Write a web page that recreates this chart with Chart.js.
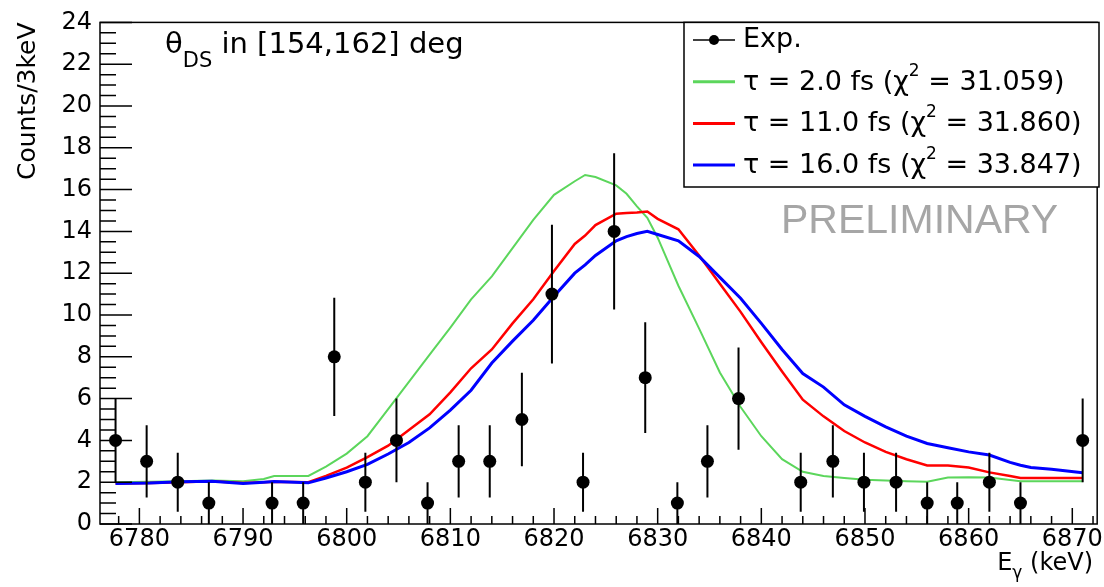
<!DOCTYPE html>
<html lang="en">
<head>
<meta charset="UTF-8">
<title>Spectrum fit</title>
<script src="https://cdn.jsdelivr.net/npm/chart.js"></script>
<style>
  html, body { margin: 0; padding: 0; background: #fff; }
  #wrap { width: 1104px; height: 587px; position: relative; }
</style>
</head>
<body>
<div id="wrap"><canvas id="spec"></canvas></div>
<script>
// measured spectrum, 3 keV bins (empty bins are not drawn)
const expEnergy = [6777.7, 6780.7, 6783.7, 6786.7, 6792.8, 6795.8, 6798.8, 6801.8, 6804.8, 6807.8,
                   6810.8, 6813.8, 6816.9, 6819.8, 6822.8, 6825.8, 6828.8, 6831.9, 6834.8, 6837.8,
                   6843.8, 6846.9, 6849.9, 6853.0, 6856.0, 6858.9, 6862.0, 6865.0, 6871.0];
const expCounts = [4, 3, 2, 1, 1, 1, 8, 2, 4, 1,
                   3, 3, 5, 11, 2, 14, 7, 1, 3, 6,
                   2, 3, 2, 2, 1, 1, 2, 1, 4];
const expErr = [2, 1.73, 1.41, 1, 1, 1, 2.83, 1.41, 2, 1,
                1.73, 1.73, 2.24, 3.32, 1.41, 3.74, 2.65, 1, 1.73, 2.45,
                1.41, 1.73, 1.41, 1.41, 1, 1, 1.41, 1, 2];

// simulated line shapes
const simEnergy = [6777.7, 6781, 6784, 6787, 6790, 6792, 6793, 6796.3, 6798, 6800,
                   6802, 6804, 6806, 6808, 6810, 6812, 6814, 6816, 6818, 6820,
                   6822, 6823, 6824, 6826, 6827, 6828, 6829, 6830, 6832, 6834,
                   6836, 6838, 6840, 6842, 6844, 6846, 6848, 6850, 6852, 6854,
                   6856, 6858, 6860, 6862, 6864, 6865, 6866, 6868, 6871];
const simTau2 = [2.0, 2.02, 2.05, 2.08, 2.05, 2.15, 2.3, 2.3, 2.75, 3.37,
                 4.2, 5.5, 6.8, 8.1, 9.4, 10.75, 11.85, 13.2, 14.55, 15.75,
                 16.4, 16.7, 16.6, 16.2, 15.8, 15.2, 14.65, 13.7, 11.4, 9.35,
                 7.25, 5.6, 4.2, 3.1, 2.5, 2.3, 2.2, 2.12, 2.08, 2.05,
                 2.02, 2.22, 2.24, 2.22, 2.1, 2.05, 2.05, 2.05, 2.05];
const simTau11 = [1.94, 1.96, 2.0, 2.04, 1.96, 2.0, 2.02, 2.0, 2.3, 2.7,
                  3.2, 3.75, 4.5, 5.25, 6.3, 7.45, 8.35, 9.6, 10.75, 12.1,
                  13.4, 13.8, 14.3, 14.85, 14.88, 14.9, 14.95, 14.6, 14.1, 12.85,
                  11.5, 10.15, 8.7, 7.3, 5.95, 5.15, 4.45, 3.9, 3.45, 3.1,
                  2.8, 2.8, 2.7, 2.47, 2.3, 2.2, 2.2, 2.2, 2.2];
const simTau16 = [1.94, 1.96, 2.02, 2.05, 1.94, 2.0, 2.03, 1.97, 2.2, 2.5,
                  2.85, 3.35, 3.9, 4.6, 5.45, 6.4, 7.7, 8.75, 9.75, 10.9,
                  12.0, 12.4, 12.85, 13.55, 13.75, 13.9, 14.0, 13.85, 13.55, 12.8,
                  11.8, 10.8, 9.6, 8.35, 7.2, 6.55, 5.7, 5.15, 4.65, 4.2,
                  3.85, 3.65, 3.45, 3.3, 2.95, 2.81, 2.7, 2.62, 2.45];

const simLabels = ['τ = 2.0 fs', 'τ = 11.0 fs', 'τ = 16.0 fs'];
const simChi2 = ['31.059', '31.860', '33.847'];
const simColors = ['#5cd65c', '#ff0000', '#0000ff'];

const xTicks = [6780, 6790, 6800, 6810, 6820, 6830, 6840, 6850, 6860, 6870];
const yTicks = [0, 2, 4, 6, 8, 10, 12, 14, 16, 18, 20, 22, 24];

const FONT = "'DejaVu Sans', sans-serif";

function pts(xs, ys) {
    return xs.map((x, i) => ({ x: x, y: ys[i] }));
}

// draws a run of text pieces: [text, size, dy]
function drawRun(ctx, x, y, parts) {
    parts.forEach(p => {
        ctx.font = p[1] + 'px ' + FONT;
        ctx.fillText(p[0], x, y + (p[2] || 0));
        x += ctx.measureText(p[0]).width;
    });
    return x;
}
function runWidth(ctx, parts) {
    let w = 0;
    parts.forEach(p => {
        ctx.font = p[1] + 'px ' + FONT;
        w += ctx.measureText(p[0]).width;
    });
    return w;
}

const rootStyle = {
    id: 'rootStyle',
    beforeDatasetDraw(chart, args) {
        if (args.index !== 0) return;
        const { ctx, scales: { x, y } } = chart;
        ctx.save();
        ctx.strokeStyle = '#000';
        ctx.lineWidth = 2;
        ctx.beginPath();
        expEnergy.forEach((e, i) => {
            const px = x.getPixelForValue(e);
            ctx.moveTo(px, y.getPixelForValue(Math.max(0, expCounts[i] - expErr[i])));
            ctx.lineTo(px, y.getPixelForValue(expCounts[i] + expErr[i]));
        });
        ctx.stroke();
        ctx.restore();
    },
    afterDraw(chart) {
        const { ctx, chartArea: a, scales: { x, y } } = chart;
        ctx.save();

        // frame + inward ticks
        ctx.strokeStyle = '#000';
        ctx.lineWidth = 1.5;
        ctx.strokeRect(a.left, a.top, a.right - a.left, a.bottom - a.top);
        ctx.beginPath();
        for (let v = 0; v <= 24; v += 0.5) {
            const py = y.getPixelForValue(v);
            const len = v % 2 === 0 ? 32 : 16;
            ctx.moveTo(a.left, py);
            ctx.lineTo(a.left + len, py);
        }
        for (let v = 6778; v <= 6872; v += 2) {
            const px = x.getPixelForValue(v);
            const len = v % 10 === 0 ? 16 : 8;
            ctx.moveTo(px, a.bottom);
            ctx.lineTo(px, a.bottom - len);
        }
        ctx.stroke();

        ctx.fillStyle = '#000';
        ctx.textBaseline = 'alphabetic';
        ctx.textAlign = 'left';

        // angle label
        let cx = drawRun(ctx, 165, 53, [['θ', 29], ['DS', 21, 14]]);
        drawRun(ctx, cx, 53, [[' in [154,162] deg', 29]]);

        // x axis title E_gamma (keV)
        const xt = [['E', 24], ['γ', 17, 8], [' (keV)', 24]];
        drawRun(ctx, 1093 - runWidth(ctx, xt), 570, xt);

        // legend
        const lx0 = 684, ly0 = a.top, lx1 = 1099, ly1 = 187;
        ctx.fillStyle = '#fff';
        ctx.fillRect(lx0, ly0, lx1 - lx0, ly1 - ly0);
        ctx.strokeStyle = '#000';
        ctx.lineWidth = 1.5;
        ctx.strokeRect(lx0, ly0, lx1 - lx0, ly1 - ly0);

        const rows = [40, 81.7, 123.4, 165.1];
        ctx.fillStyle = '#000';
        ctx.beginPath();
        ctx.moveTo(693, rows[0]);
        ctx.lineTo(735, rows[0]);
        ctx.stroke();
        ctx.beginPath();
        ctx.arc(714, rows[0], 5, 0, Math.PI * 2);
        ctx.fill();
        drawRun(ctx, 743, rows[0] + 7, [['Exp.', 27]]);

        simLabels.forEach((lab, i) => {
            const ry = rows[i + 1];
            ctx.strokeStyle = simColors[i];
            ctx.lineWidth = 3;
            ctx.beginPath();
            ctx.moveTo(693, ry);
            ctx.lineTo(735, ry);
            ctx.stroke();
            ctx.fillStyle = '#000';
            drawRun(ctx, 743, ry + 8, [[lab + ' (χ', 27], ['2', 17, -14], [' = ' + simChi2[i] + ')', 27]]);
        });

        // watermark
        ctx.fillStyle = '#a6a6a6';
        ctx.font = "41px 'Liberation Sans', Arial, sans-serif";
        ctx.fillText('PRELIMINARY', 781, 233);

        ctx.restore();
    }
};

new Chart(document.getElementById('spec'), {
    type: 'line',
    data: {
        datasets: [
            {
                label: 'Exp.',
                data: pts(expEnergy, expCounts),
                showLine: false,
                pointRadius: 6.5,
                pointBackgroundColor: '#000',
                pointBorderWidth: 0,
                order: 0
            },
            {
                label: simLabels[2],
                data: pts(simEnergy, simTau16),
                borderColor: simColors[2],
                borderWidth: 3,
                pointRadius: 0,
                order: 1
            },
            {
                label: simLabels[1],
                data: pts(simEnergy, simTau11),
                borderColor: simColors[1],
                borderWidth: 2.5,
                pointRadius: 0,
                order: 2
            },
            {
                label: simLabels[0],
                data: pts(simEnergy, simTau2),
                borderColor: simColors[0],
                borderWidth: 2,
                pointRadius: 0,
                order: 3
            }
        ]
    },
    options: {
        responsive: true,
        maintainAspectRatio: false,
        animation: false,
        layout: { padding: { top: 20, right: 6, left: 0, bottom: 0 } },
        plugins: {
            legend: { display: false },
            tooltip: { enabled: false }
        },
        scales: {
            x: {
                type: 'linear',
                min: 6776.2,
                max: 6872.4,
                afterBuildTicks: s => { s.ticks = xTicks.map(v => ({ value: v })); },
                afterFit: s => { s.height = 63; },
                grid: { display: false, drawTicks: false },
                border: { display: false },
                ticks: {
                    color: '#000',
                    font: { family: FONT, size: 24 },
                    padding: 1,
                    maxRotation: 0,
                    autoSkip: false,
                    callback: v => String(v)
                }
            },
            y: {
                min: 0,
                max: 24,
                afterBuildTicks: s => { s.ticks = yTicks.map(v => ({ value: v })); },
                afterFit: s => { s.width = 100; },
                grid: { display: false, drawTicks: false },
                border: { display: false },
                ticks: {
                    color: '#000',
                    font: { family: FONT, size: 24 },
                    padding: 8,
                    autoSkip: false
                },
                title: {
                    display: true,
                    text: 'Counts/3keV',
                    align: 'end',
                    color: '#000',
                    font: { family: FONT, size: 25 },
                    padding: { top: 13, bottom: 0 }
                }
            }
        }
    },
    plugins: [rootStyle]
});
</script>
</body>
</html>
